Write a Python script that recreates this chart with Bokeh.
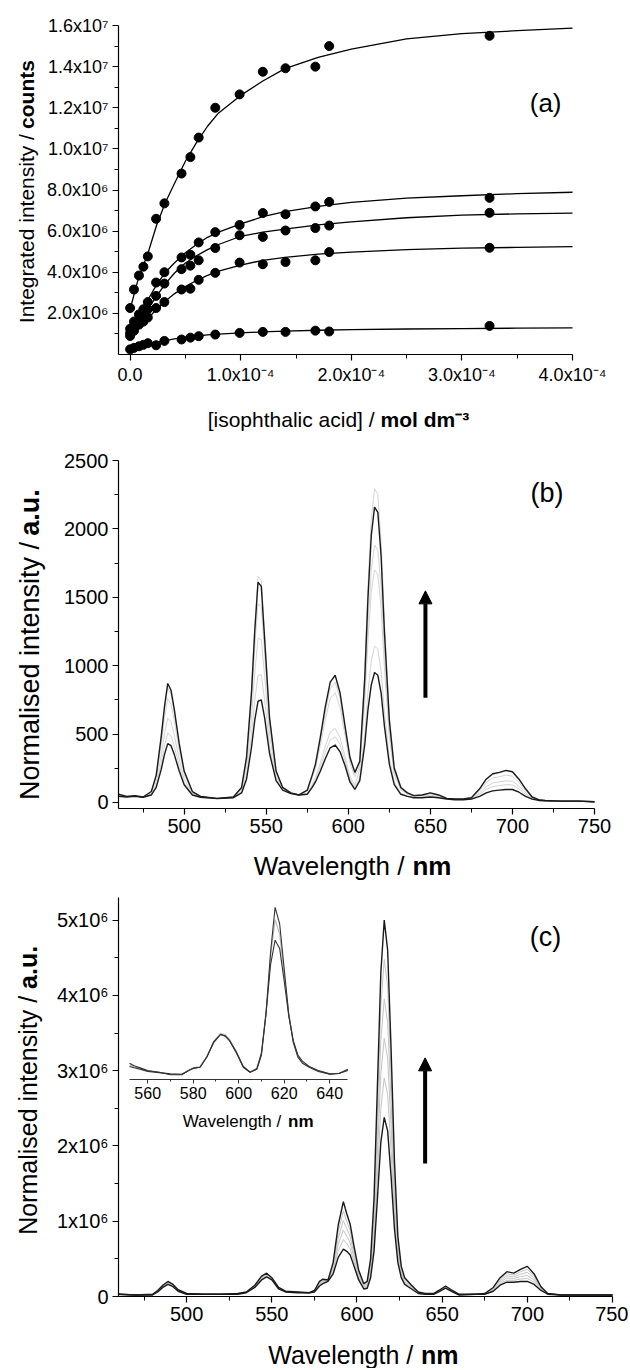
import math
from bokeh.plotting import figure
from bokeh.layouts import column
from bokeh.models import (Range1d, FixedTicker, CustomJSTickFormatter, Label,
                          Arrow, NormalHead, LinearAxis)
from bokeh.embed import file_html
from bokeh.resources import INLINE

FONT = "Liberation Sans"

# ---------------- (a) titration data ----------------
conc = [0.0, 3.5e-6, 8.0e-6, 1.2e-5, 1.6e-5, 2.35e-5, 3.1e-5, 4.65e-5, 5.45e-5, 6.2e-5,
        7.7e-5, 9.9e-5, 1.2e-4, 1.405e-4, 1.675e-4, 1.8e-4, 3.25e-4]
series_1 = [2.26e6, 3.16e6, 3.84e6, 4.27e6, 4.77e6, 6.6e6, 7.35e6, 8.8e6, 9.6e6, 10.55e6,
            12.0e6, 12.65e6, 13.75e6, 13.92e6, 14.0e6, 15.0e6, 15.5e6]
series_2 = [1.25e6, 1.6e6, 1.95e6, 2.2e6, 2.55e6, 3.5e6, 4.0e6, 4.72e6, 4.85e6, 5.45e6,
            5.95e6, 6.3e6, 6.88e6, 6.82e6, 7.2e6, 7.42e6, 7.62e6]
series_3 = [1.05e6, 1.4e6, 1.7e6, 2.0e6, 2.2e6, 2.85e6, 3.45e6, 4.15e6, 4.32e6, 4.58e6,
            5.18e6, 5.8e6, 5.72e6, 6.03e6, 6.15e6, 6.27e6, 6.89e6]
series_4 = [0.9e6, 1.15e6, 1.45e6, 1.6e6, 1.8e6, 2.26e6, 2.55e6, 3.16e6, 3.2e6, 3.63e6,
            3.97e6, 4.47e6, 4.39e6, 4.5e6, 4.58e6, 4.98e6, 5.19e6]
series_5 = [0.25e6, 0.32e6, 0.4e6, 0.47e6, 0.55e6, 0.45e6, 0.66e6, 0.73e6, 0.82e6, 0.89e6,
            0.97e6, 1.05e6, 1.1e6, 1.1e6, 1.16e6, 1.12e6, 1.39e6]

fit_x = [0.0, 0.8e-5, 1.6e-5, 2.4e-5, 3.2e-5, 4e-5, 5e-5, 6e-5, 7e-5, 8e-5, 1e-4, 1.2e-4,
         1.4e-4, 1.7e-4, 2.0e-4, 2.5e-4, 3.0e-4, 3.5e-4, 4.0e-4]
fit_1 = [2.2e6, 3.8e6, 4.9e6, 6.3e6, 7.4e6, 8.3e6, 9.4e6, 10.3e6, 11.1e6, 11.75e6, 12.6e6,
         13.3e6, 13.9e6, 14.45e6, 14.85e6, 15.35e6, 15.6e6, 15.75e6, 15.87e6]
fit_2 = [1.2e6, 1.9e6, 2.65e6, 3.4e6, 4.0e6, 4.45e6, 4.95e6, 5.35e6, 5.7e6, 5.95e6, 6.35e6,
         6.7e6, 6.95e6, 7.2e6, 7.4e6, 7.6e6, 7.72e6, 7.82e6, 7.89e6]
fit_3 = [1.0e6, 1.6e6, 2.2e6, 2.85e6, 3.45e6, 3.95e6, 4.45e6, 4.8e6, 5.1e6, 5.35e6, 5.75e6,
         5.95e6, 6.1e6, 6.3e6, 6.45e6, 6.65e6, 6.78e6, 6.84e6, 6.88e6]
fit_4 = [0.85e6, 1.3e6, 1.75e6, 2.2e6, 2.6e6, 2.95e6, 3.3e6, 3.6e6, 3.85e6, 4.05e6, 4.35e6,
         4.58e6, 4.72e6, 4.88e6, 4.98e6, 5.1e6, 5.17e6, 5.21e6, 5.25e6]
fit_5 = [0.25e6, 0.38e6, 0.5e6, 0.6e6, 0.68e6, 0.76e6, 0.84e6, 0.9e6, 0.95e6, 0.99e6, 1.05e6,
         1.1e6, 1.14e6, 1.18e6, 1.21e6, 1.24e6, 1.26e6, 1.28e6, 1.29e6]

a_xticks = [0.0, 1e-4, 2e-4, 3e-4, 4e-4]
a_xminor = [0.5e-4, 1.5e-4, 2.5e-4, 3.5e-4]
a_yticks = [2e6, 4e6, 6e6, 8e6, 10e6, 12e6, 14e6, 16e6]
a_yminor = [1e6, 3e6, 5e6, 7e6, 9e6, 11e6, 13e6, 15e6]

# ---------------- (b) spectra ----------------
wl_b = [460, 465, 470, 475, 480, 483, 486, 488, 490, 492, 494, 497, 500, 505, 510, 520, 530,
        535, 538, 541, 543, 545, 547, 549, 552, 556, 560, 565, 570, 575, 578, 580, 583, 586,
        589, 592, 595, 598, 601, 604, 607, 610, 612, 614, 616, 618, 620, 622, 625, 628, 632,
        636, 640, 645, 650, 655, 660, 665, 670, 675, 680, 684, 688, 692, 696, 700, 704, 708,
        712, 716, 720, 730, 740, 750]
b_final = [60, 45, 50, 40, 80, 200, 480, 700, 870, 820, 680, 430, 230, 80, 45, 30, 40, 110, 330,
           800, 1250, 1610, 1580, 1200, 620, 230, 110, 70, 55, 90, 200, 280, 480, 700, 880, 930,
           800, 560, 330, 220, 300, 900, 1500, 1950, 2160, 2120, 1800, 1250, 600, 250, 110, 70,
           50, 55, 70, 55, 30, 25, 25, 35, 100, 170, 210, 220, 235, 225, 170, 100, 40, 20, 15,
           10, 10, 5]
b_initial = [45, 40, 45, 38, 55, 110, 240, 350, 430, 415, 350, 230, 130, 55, 38, 28, 35, 70, 170,
             400, 600, 740, 750, 620, 360, 160, 90, 65, 55, 60, 110, 150, 230, 320, 400, 420,
             370, 270, 150, 95, 160, 420, 680, 860, 950, 930, 800, 560, 280, 130, 60, 45, 35,
             35, 40, 35, 25, 20, 20, 25, 45, 70, 85, 90, 95, 95, 75, 45, 25, 15, 12, 10, 10, 5]
b_grey_1 = [48, 41, 46, 38, 60, 126, 283, 413, 509, 488, 409, 266, 148, 60, 39, 28, 36, 79, 205,
            488, 743, 931, 933, 748, 417, 175, 94, 66, 55, 64, 121, 166, 260, 366, 458, 481,
            422, 305, 172, 110, 182, 497, 811, 1034, 1144, 1120, 960, 670, 331, 149, 68, 49,
            37, 38, 48, 40, 26, 21, 21, 28, 59, 95, 116, 123, 130, 128, 99, 59, 29, 16, 13, 10,
            10, 5]
b_grey_2 = [51, 42, 47, 39, 66, 149, 343, 500, 619, 589, 492, 316, 173, 66, 41, 29, 38, 91, 255,
            612, 945, 1201, 1190, 927, 498, 197, 101, 68, 55, 67, 132, 181, 290, 411, 515, 542,
            473, 340, 193, 125, 247, 718, 1188, 1536, 1700, 1668, 1420, 988, 478, 204, 91, 61,
            44, 47, 54, 44, 27, 22, 22, 30, 70, 116, 143, 150, 159, 155, 119, 70, 32, 17, 13,
            10, 10, 5]
b_grey_3 = [56, 44, 49, 40, 74, 178, 420, 612, 760, 719, 598, 380, 205, 74, 43, 30, 39, 103,
            301, 728, 1133, 1453, 1431, 1096, 573, 217, 106, 69, 55, 83, 178, 248, 418, 605,
            760, 803, 693, 488, 285, 189, 268, 790, 1311, 1699, 1882, 1846, 1570, 1091, 526,
            222, 99, 64, 47, 50, 63, 50, 29, 24, 24, 33, 86, 145, 179, 188, 200, 193, 146, 86,
            36, 19, 14, 10, 10, 5]
b_grey_4 = [59, 45, 50, 40, 78, 194, 463, 676, 839, 792, 657, 416, 223, 78, 45, 30, 40, 112,
            338, 820, 1283, 1654, 1622, 1229, 633, 234, 111, 70, 55, 87, 191, 267, 455, 662,
            832, 879, 757, 531, 312, 208, 315, 953, 1590, 2070, 2293, 2251, 1910, 1326, 635,
            263, 116, 73, 52, 57, 69, 54, 30, 25, 25, 35, 98, 166, 205, 215, 229, 220, 166, 98,
            39, 20, 15, 10, 10, 5]

wl_ticks = [500, 550, 600, 650, 700, 750]
wl_minor = [475, 525, 575, 625, 675, 725]
b_yticks = [0, 500, 1000, 1500, 2000, 2500]
b_yminor = [250, 750, 1250, 1750, 2250]

# ---------------- (c) spectra ----------------
wl_c = [460, 470, 480, 483, 486, 489, 492, 495, 500, 510, 520, 530, 535, 540, 544, 547, 550,
        554, 558, 565, 572, 575, 578, 580, 583, 586, 589, 592, 594, 596, 598, 601, 604, 606,
        608, 610, 612, 614, 616, 618, 620, 622, 624, 626, 628, 632, 636, 640, 645, 648, 652,
        656, 660, 670, 675, 680, 684, 688, 692, 696, 700, 704, 708, 712, 720, 730, 740, 750]
c_final = [0.03e6, 0.02e6, 0.03e6, 0.08e6, 0.15e6, 0.2e6, 0.16e6, 0.09e6, 0.04e6, 0.03e6,
           0.03e6, 0.04e6, 0.06e6, 0.15e6, 0.27e6, 0.31e6, 0.25e6, 0.12e6, 0.07e6, 0.06e6,
           0.05e6, 0.08e6, 0.2e6, 0.23e6, 0.22e6, 0.45e6, 0.95e6, 1.26e6, 1.1e6, 0.96e6,
           0.7e6, 0.35e6, 0.17e6, 0.2e6, 0.5e6, 1.3e6, 2.8e6, 4.3e6, 5.0e6, 4.6e6,
           3.3e6, 1.8e6, 0.8e6, 0.4e6, 0.25e6, 0.15e6, 0.06e6, 0.04e6, 0.04e6, 0.08e6,
           0.14e6, 0.08e6, 0.03e6, 0.03e6, 0.04e6, 0.12e6, 0.25e6, 0.33e6, 0.31e6, 0.36e6,
           0.4e6, 0.3e6, 0.13e6, 0.04e6, 0.02e6, 0.02e6, 0.02e6, 0.02e6]
c_initial = [0.03e6, 0.02e6, 0.02e6, 0.06e6, 0.12e6, 0.16e6, 0.13e6, 0.07e6, 0.03e6, 0.03e6,
             0.03e6, 0.03e6, 0.05e6, 0.12e6, 0.22e6, 0.26e6, 0.22e6, 0.1e6, 0.06e6, 0.05e6,
             0.05e6, 0.06e6, 0.14e6, 0.17e6, 0.2e6, 0.3e6, 0.52e6, 0.63e6, 0.6e6, 0.55e6,
             0.42e6, 0.22e6, 0.1e6, 0.11e6, 0.25e6, 0.6e6, 1.3e6, 2.05e6, 2.38e6, 2.2e6,
             1.6e6, 0.9e6, 0.45e6, 0.25e6, 0.16e6, 0.1e6, 0.04e6, 0.03e6, 0.03e6, 0.06e6,
             0.11e6, 0.06e6, 0.02e6, 0.03e6, 0.03e6, 0.07e6, 0.15e6, 0.19e6, 0.19e6, 0.2e6,
             0.2e6, 0.16e6, 0.08e6, 0.03e6, 0.02e6, 0.02e6, 0.02e6, 0.02e6]
c_grey_1 = [0.03e6, 0.02e6, 0.022e6, 0.064e6, 0.126e6, 0.168e6, 0.136e6, 0.074e6, 0.032e6,
            0.03e6, 0.03e6, 0.032e6, 0.052e6, 0.126e6, 0.23e6, 0.27e6, 0.226e6, 0.104e6,
            0.062e6, 0.052e6, 0.05e6, 0.064e6, 0.152e6, 0.182e6, 0.204e6, 0.33e6, 0.606e6,
            0.756e6, 0.70e6, 0.632e6, 0.476e6, 0.246e6, 0.114e6, 0.128e6, 0.30e6, 0.74e6,
            1.6e6, 2.5e6, 2.904e6, 2.68e6, 1.94e6, 1.08e6, 0.52e6, 0.28e6, 0.178e6, 0.11e6,
            0.044e6, 0.032e6, 0.032e6, 0.064e6, 0.116e6, 0.064e6, 0.022e6, 0.03e6, 0.032e6,
            0.08e6, 0.17e6, 0.218e6, 0.214e6, 0.232e6, 0.24e6, 0.188e6, 0.09e6, 0.032e6,
            0.02e6, 0.02e6, 0.02e6, 0.02e6]
c_grey_2 = [0.03e6, 0.02e6, 0.024e6, 0.068e6, 0.132e6, 0.176e6, 0.142e6, 0.078e6, 0.034e6,
            0.03e6, 0.03e6, 0.034e6, 0.054e6, 0.132e6, 0.24e6, 0.28e6, 0.232e6, 0.108e6,
            0.064e6, 0.054e6, 0.05e6, 0.068e6, 0.164e6, 0.194e6, 0.208e6, 0.36e6, 0.692e6,
            0.882e6, 0.80e6, 0.714e6, 0.532e6, 0.272e6, 0.128e6, 0.146e6, 0.35e6, 0.88e6,
            1.9e6, 2.95e6, 3.428e6, 3.16e6, 2.28e6, 1.26e6, 0.59e6, 0.31e6, 0.196e6, 0.12e6,
            0.048e6, 0.034e6, 0.034e6, 0.068e6, 0.122e6, 0.068e6, 0.024e6, 0.03e6, 0.034e6,
            0.09e6, 0.19e6, 0.246e6, 0.238e6, 0.264e6, 0.28e6, 0.216e6, 0.10e6, 0.034e6,
            0.02e6, 0.02e6, 0.02e6, 0.02e6]
c_grey_3 = [0.03e6, 0.02e6, 0.026e6, 0.072e6, 0.138e6, 0.184e6, 0.148e6, 0.082e6, 0.036e6,
            0.03e6, 0.03e6, 0.036e6, 0.056e6, 0.138e6, 0.25e6, 0.29e6, 0.238e6, 0.112e6,
            0.066e6, 0.056e6, 0.05e6, 0.072e6, 0.176e6, 0.206e6, 0.212e6, 0.39e6, 0.778e6,
            1.008e6, 0.90e6, 0.796e6, 0.588e6, 0.298e6, 0.142e6, 0.164e6, 0.40e6, 1.02e6,
            2.2e6, 3.4e6, 3.952e6, 3.64e6, 2.62e6, 1.44e6, 0.66e6, 0.34e6, 0.214e6, 0.13e6,
            0.052e6, 0.036e6, 0.036e6, 0.072e6, 0.128e6, 0.072e6, 0.026e6, 0.03e6, 0.036e6,
            0.10e6, 0.21e6, 0.274e6, 0.262e6, 0.296e6, 0.32e6, 0.244e6, 0.11e6, 0.036e6,
            0.02e6, 0.02e6, 0.02e6, 0.02e6]
c_grey_4 = [0.03e6, 0.02e6, 0.028e6, 0.076e6, 0.144e6, 0.192e6, 0.154e6, 0.086e6, 0.038e6,
            0.03e6, 0.03e6, 0.038e6, 0.058e6, 0.144e6, 0.26e6, 0.30e6, 0.244e6, 0.116e6,
            0.068e6, 0.058e6, 0.05e6, 0.076e6, 0.188e6, 0.218e6, 0.216e6, 0.42e6, 0.864e6,
            1.134e6, 1.00e6, 0.878e6, 0.644e6, 0.324e6, 0.156e6, 0.182e6, 0.45e6, 1.16e6,
            2.5e6, 3.85e6, 4.476e6, 4.12e6, 2.96e6, 1.62e6, 0.73e6, 0.37e6, 0.232e6, 0.14e6,
            0.056e6, 0.038e6, 0.038e6, 0.076e6, 0.134e6, 0.076e6, 0.028e6, 0.03e6, 0.038e6,
            0.11e6, 0.23e6, 0.302e6, 0.286e6, 0.328e6, 0.36e6, 0.272e6, 0.12e6, 0.038e6,
            0.02e6, 0.02e6, 0.02e6, 0.02e6]
c_yticks = [0, 1e6, 2e6, 3e6, 4e6, 5e6]
c_yminor = [0.5e6, 1.5e6, 2.5e6, 3.5e6, 4.5e6]

# inset of (c): relative intensities
wl_inset = [552, 554, 557, 560, 565, 570, 575, 578, 580, 583, 586, 589, 592, 594, 596, 599,
            602, 605, 608, 610, 612, 614, 616, 618, 620, 622, 624, 626, 628, 631, 635, 640,
            644, 648]
inset_hi = [0.3, 0.24, 0.18, 0.12, 0.08, 0.02, 0.02, 0.12, 0.18, 0.2, 0.45, 0.8, 1.0, 0.97,
            0.85, 0.55, 0.2, 0.08, 0.15, 0.5, 1.5, 3.0, 4.1, 3.7, 2.6, 1.5, 0.8, 0.45, 0.3,
            0.2, 0.1, 0.03, 0.05, 0.15]
inset_mid = [0.26, 0.21, 0.17, 0.11, 0.08, 0.03, 0.03, 0.13, 0.19, 0.22, 0.47, 0.83, 1.03,
             1.0, 0.88, 0.58, 0.22, 0.09, 0.17, 0.55, 1.55, 2.9, 3.8, 3.45, 2.45, 1.5, 0.82,
             0.48, 0.32, 0.21, 0.11, 0.04, 0.05, 0.14]
inset_lo = [0.22, 0.19, 0.15, 0.1, 0.07, 0.04, 0.03, 0.12, 0.17, 0.2, 0.45, 0.82, 1.0, 0.96,
            0.85, 0.57, 0.22, 0.08, 0.17, 0.55, 1.5, 2.7, 3.3, 3.1, 2.3, 1.45, 0.85, 0.5,
            0.35, 0.22, 0.12, 0.04, 0.05, 0.12]
inset_ticks = [560, 580, 600, 620, 640]
inset_minor = [570, 590, 610, 630]

# ---------------- helpers ----------------
SUP_JS = """
const sup = {"-":"\\u207b","0":"\\u2070","1":"\\u00b9","2":"\\u00b2","3":"\\u00b3",
             "4":"\\u2074","5":"\\u2075","6":"\\u2076","7":"\\u2077","8":"\\u2078","9":"\\u2079"};
"""


def sci_formatter(digits, zero_text):
    code = SUP_JS + """
if (Math.abs(tick) < 1e-30) return "%s";
const e = Math.floor(Math.log10(Math.abs(tick)) + 1e-9);
const m = tick / Math.pow(10, e);
const s = String(e).split("").map(c => sup[c]).join("");
return m.toFixed(%d) + "x10" + s;
""" % (zero_text, digits)
    return CustomJSTickFormatter(code=code)


def style_axis(ax, tick_size, major_out=6, minor_out=4, color="black", width=1.2):
    ax.axis_line_color = color
    ax.axis_line_width = width
    ax.major_tick_line_color = color
    ax.minor_tick_line_color = color
    ax.major_tick_line_width = width
    ax.minor_tick_line_width = 1.0
    ax.major_tick_in = 0
    ax.major_tick_out = major_out
    ax.minor_tick_in = 0
    ax.minor_tick_out = minor_out
    ax.major_label_text_font = FONT
    ax.major_label_text_font_size = tick_size
    ax.major_label_text_color = "black"
    ax.major_label_standoff = 4


CANVAS_W = 628


def make_panel(height, box, xr, yr):
    """The frame fills the canvas; the axes box sits at `box` (left, right, top, bottom px)."""
    L, R, T, B = box
    x0, x1 = xr
    y0, y1 = yr
    sx = (x1 - x0) / (R - L)
    sy = (y1 - y0) / (B - T)
    p = figure(width=CANVAS_W, height=height, min_border=0, title=None,
               x_range=Range1d(x0 - L * sx, x1 + (CANVAS_W - R) * sx),
               y_range=Range1d(y0 - (height - B) * sy, y1 + T * sy),
               x_axis_location=None, y_axis_location=None,
               output_backend="svg", toolbar_location=None)
    p.grid.visible = False
    p.outline_line_color = None
    p.background_fill_color = "white"
    p.border_fill_color = "white"
    return p


def add_axes(p, xr, yr, xticker, yticker, tick_size, xfmt=None, yfmt=None):
    xa = LinearAxis(fixed_location=yr[0], bounds=xr, ticker=xticker)
    ya = LinearAxis(fixed_location=xr[0], bounds=yr, ticker=yticker)
    if xfmt is not None:
        xa.formatter = xfmt
    if yfmt is not None:
        ya.formatter = yfmt
    style_axis(xa, tick_size)
    style_axis(ya, tick_size)
    p.add_layout(xa, "below")
    p.add_layout(ya, "left")


def add_text(p, x, y, text, size, bold=False, align="center", angle=0.0, **kw):
    p.add_layout(Label(x=x, y=y, text=text, text_font=FONT, text_font_size=size,
                       text_font_style="bold" if bold else "normal", text_color="black",
                       text_align=align, text_baseline="middle", angle=angle, **kw))


# ---------------- panel (a) ----------------
A_XR, A_YR = (-1.05e-5, 4e-4), (0, 1.6e7)
pa = make_panel(440, (118, 572, 25, 354), A_XR, A_YR)
for fy in (fit_1, fit_2, fit_3, fit_4, fit_5):
    pa.line(fit_x, fy, line_color="black", line_width=1.3)
for sy in (series_1, series_2, series_3, series_4, series_5):
    pa.scatter(conc, sy, size=9, fill_color="black", line_color="black")
add_axes(pa, A_XR, A_YR, FixedTicker(ticks=a_xticks, minor_ticks=a_xminor),
         FixedTicker(ticks=a_yticks, minor_ticks=a_yminor), "18px",
         sci_formatter(1, "0.0"), sci_formatter(1, "0.0"))
add_text(pa, 2.2107e-4, -3.14e6, "[isophthalic acid] /", "21px", align="right")
add_text(pa, 2.265e-4, -3.14e6, "mol dm\u207b\u00b3", "21px", bold=True, align="left")
add_text(pa, -0.936e-4, 10.72e6, "Integrated intensity /", "21px", align="right", angle=math.pi / 2)
add_text(pa, -0.936e-4, 10.97e6, "counts", "21px", bold=True, align="left", angle=math.pi / 2)
add_text(pa, 3.757e-4, 12.21e6, "(a)", "26px")

# ---------------- panel (b) ----------------
B_XR, B_YR = (460, 750), (-44, 2500)
pb = make_panel(445, (118, 594, 20, 368), B_XR, B_YR)
for g in (b_grey_1, b_grey_2, b_grey_3, b_grey_4):
    pb.line(wl_b, g, line_color="#d4d4d4", line_width=1.0)
pb.line(wl_b, b_initial, line_color="#1a1a1a", line_width=1.4)
pb.line(wl_b, b_final, line_color="#1a1a1a", line_width=1.4)
add_axes(pb, B_XR, B_YR, FixedTicker(ticks=wl_ticks, minor_ticks=wl_minor),
         FixedTicker(ticks=b_yticks, minor_ticks=b_yminor), "20px")
pb.add_layout(Arrow(end=NormalHead(size=13, fill_color="black", line_color="black"),
                    x_start=647, y_start=766, x_end=647, y_end=1547,
                    line_color="black", line_width=4))
add_text(pb, 634.2, -467, "Wavelength /", "26px", align="right")
add_text(pb, 639.1, -467, "nm", "26px", bold=True, align="left")
add_text(pb, 406, 1905, "Normalised intensity /", "27px", align="right", angle=math.pi / 2)
add_text(pb, 406, 1949, "a.u.", "27px", bold=True, align="left", angle=math.pi / 2)
add_text(pb, 721, 2263, "(b)", "27px")

# ---------------- panel (c) ----------------
C_H = 483
C_XR, C_YR = (460, 750), (0, 5.3e6)
pc = make_panel(C_H, (118, 612, 12, 411), C_XR, C_YR)
# inset placement (canvas pixels): where 552 nm sits, px per nm, zero line, px per unit
INSET_X_PX, INSET_PX_PER_NM = 129.0, 2.275
INSET_ZERO_PX, INSET_PX_PER_UNIT = 190.0, 41.0
ix0 = wl_inset[0] - INSET_X_PX / INSET_PX_PER_NM
pc.extra_x_ranges = {"ix": Range1d(ix0, ix0 + CANVAS_W / INSET_PX_PER_NM)}
pc.extra_y_ranges = {"iy": Range1d(-(C_H - INSET_ZERO_PX) / INSET_PX_PER_UNIT,
                                   INSET_ZERO_PX / INSET_PX_PER_UNIT)}

for g in (c_grey_1, c_grey_2, c_grey_3, c_grey_4):
    pc.line(wl_c, g, line_color="#c4c4c4", line_width=1.0)
pc.line(wl_c, c_initial, line_color="#1a1a1a", line_width=1.4)
pc.line(wl_c, c_final, line_color="#1a1a1a", line_width=1.4)

pc.line(wl_inset, inset_mid, line_color="#bdbdbd", line_width=1.2, x_range_name="ix", y_range_name="iy")
pc.line(wl_inset, inset_lo, line_color="#333333", line_width=1.1, x_range_name="ix", y_range_name="iy")
pc.line(wl_inset, inset_hi, line_color="#333333", line_width=1.1, x_range_name="ix", y_range_name="iy")

add_axes(pc, C_XR, C_YR, FixedTicker(ticks=wl_ticks, minor_ticks=wl_minor),
         FixedTicker(ticks=c_yticks, minor_ticks=c_yminor), "20px",
         None, sci_formatter(0, "0"))

inset_axis = LinearAxis(x_range_name="ix", y_range_name="iy",
                        fixed_location=-4 / INSET_PX_PER_UNIT,
                        bounds=(wl_inset[0], wl_inset[-1]),
                        ticker=FixedTicker(ticks=inset_ticks, minor_ticks=inset_minor))
style_axis(inset_axis, "16px", major_out=4, minor_out=2, color="#333333", width=1.0)
inset_axis.major_label_standoff = 3
pc.add_layout(inset_axis, "below")
add_text(pc, 618.7, -1.12, "Wavelength /", "17px", align="right", x_range_name="ix", y_range_name="iy")
add_text(pc, 621.7, -1.12, "nm", "17px", bold=True, align="left", x_range_name="ix", y_range_name="iy")

pc.add_layout(Arrow(end=NormalHead(size=13, fill_color="black", line_color="black"),
                    x_start=640, y_start=1.766e6, x_end=640, y_end=3.17e6,
                    line_color="black", line_width=4))
add_text(pc, 633, -0.774e6, "Wavelength /", "25px", align="right")
add_text(pc, 637.6, -0.774e6, "nm", "25px", bold=True, align="left")
add_text(pc, 407, 3.993e6, "Normalised intensity /", "25px", align="right", angle=math.pi / 2)
add_text(pc, 407, 4.086e6, "a.u.", "25px", bold=True, align="left", angle=math.pi / 2)
add_text(pc, 710.7, 4.777e6, "(c)", "27px")

layout = column(pa, pb, pc)
open("out.html", "w").write(file_html(layout, INLINE))
